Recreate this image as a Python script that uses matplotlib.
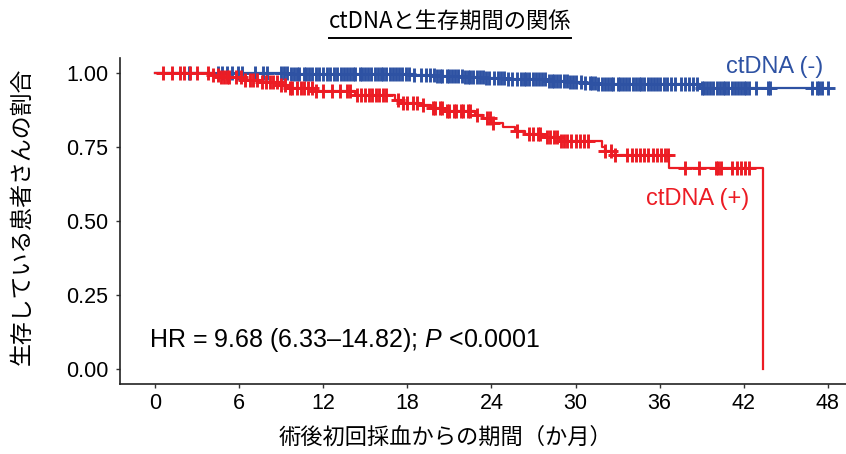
import numpy as np
import matplotlib
matplotlib.use("Agg")
import matplotlib.pyplot as plt

# fonts
plt.rcParams['font.family'] = ['Liberation Sans', 'Noto Sans CJK JP', 'DejaVu Sans']
plt.rcParams['mathtext.fontset'] = 'custom'
plt.rcParams['mathtext.it'] = 'Liberation Sans:italic'
plt.rcParams['mathtext.rm'] = 'Liberation Sans'
jp = ['Noto Sans CJK JP', 'DejaVu Sans']

# ctDNA (-) : step times / survival, censor times
neg_times = [0, 9.5, 14.0, 18.5, 20.0, 22.0, 23.5, 25.0, 26.5, 28.0, 29.5, 30.5, 31.5, 38.9, 48.0]
neg_surv = [1.0, 0.998, 0.996, 0.994, 0.991, 0.988, 0.985, 0.982, 0.979, 0.975, 0.971, 0.967, 0.963, 0.950, 0.950]
neg_cens = [2.4, 4.5, 4.8, 5.1, 5.5, 5.9, 6.2, 7.1, 7.7, 8.0,
            9.0, 9.2, 9.4, 9.7, 9.9, 10.1, 10.3, 10.6, 10.8, 11.0, 11.2, 11.5, 11.7,
            12.0, 12.3, 12.5, 12.8, 13.0, 13.3, 13.5, 13.7, 13.9, 14.1, 14.3, 14.6, 14.8,
            15.0, 15.2, 15.4, 15.7, 15.9, 16.1, 16.3, 16.5, 16.8, 17.0, 17.2, 17.4, 17.6,
            17.9, 18.1, 18.5, 19.0, 19.3, 19.6, 19.9, 20.1, 20.3, 20.5, 20.8, 21.0, 21.2,
            21.4, 21.6, 21.9, 22.1, 22.3, 22.5, 22.7, 23.0, 23.2, 23.4, 23.6, 23.8, 24.2,
            24.5, 24.7, 24.9, 25.2, 25.5, 25.8, 26.1, 26.3, 26.5, 26.7, 27.0, 27.2, 27.4,
            27.6, 27.8, 28.1, 28.3, 28.5, 28.7, 28.9, 29.2, 29.4, 29.6, 29.8, 30.0, 30.4,
            30.7, 31.0, 31.2, 31.4, 31.6, 31.9, 32.1, 32.3, 32.5, 32.7, 33.0, 33.2, 33.4,
            33.6, 33.8, 34.1, 34.3, 34.5, 34.7, 34.9, 35.2, 35.4, 35.6, 35.8, 36.0, 36.3,
            36.5, 36.8, 37.1, 37.5, 37.8, 38.1, 38.4, 38.7, 39.0, 39.2, 39.4, 39.6, 39.8,
            40.1, 40.3, 40.5, 40.7, 40.9, 41.2, 41.4, 41.6, 41.8, 42.0, 42.2, 42.4, 42.9,
            43.7, 43.9, 46.9, 47.2, 47.4, 47.6, 48.0]

# ctDNA (+)
pos_times = [0, 4.1, 4.6, 6.3, 7.5, 8.9, 9.6, 11.5, 14.3, 17.1, 17.7, 18.9, 19.7, 20.6,
             22.8, 23.4, 24.0, 24.8, 25.7, 26.4, 27.7, 28.9, 31.9, 32.1, 32.6, 36.7, 43.4]
pos_surv = [1.0, 0.994, 0.988, 0.977, 0.970, 0.960, 0.949, 0.939, 0.926, 0.909, 0.899, 0.892,
            0.882, 0.872, 0.858, 0.848, 0.831, 0.818, 0.804, 0.794, 0.784, 0.770, 0.750,
            0.736, 0.723, 0.679, 0.0]
pos_cens = [0.6, 1.2, 1.8, 2.1, 2.5, 3.0, 3.8, 4.1, 4.5, 4.7, 4.9, 5.1, 5.3, 5.8, 6.1, 6.4,
            6.8, 7.0, 7.3, 7.6, 7.9, 8.2, 8.4, 8.7, 9.0, 9.3, 9.6, 9.8, 10.1, 10.4, 10.6,
            10.9, 11.2, 11.5, 12.0, 12.6, 13.2, 13.7, 13.9, 14.4, 14.7, 15.0, 15.3, 15.5,
            15.8, 16.0, 16.3, 16.5, 17.3, 17.7, 18.0, 18.4, 18.7, 19.1, 19.8, 20.0, 20.3,
            20.5, 20.8, 21.0, 21.3, 21.5, 21.8, 22.0, 22.3, 22.5, 23.0, 23.7, 23.9, 24.1,
            25.8, 26.7, 27.0, 27.3, 27.5, 28.0, 28.2, 28.5, 28.7, 29.0, 29.2, 29.4, 29.7,
            30.0, 30.3, 30.6, 30.9, 32.1, 32.5, 32.8, 33.7, 34.0, 34.3, 34.6, 34.9, 35.2,
            35.5, 35.8, 36.1, 36.4, 36.6, 37.8, 38.8, 40.0, 40.2, 40.4, 41.2, 41.5, 41.8,
            42.1, 42.4]

x_ticks = [0, 6, 12, 18, 24, 30, 36, 42, 48]
y_ticks = [0.00, 0.25, 0.50, 0.75, 1.00]
y_ticklabels = ['0.00', '0.25', '0.50', '0.75', '1.00']

blue = '#2E52A3'
red = '#EC1C24'


def surv_at(times, surv, t):
    # survival value of a step curve at time t
    idx = np.searchsorted(times, t, side='right') - 1
    return np.array(surv)[idx]


fig = plt.figure(figsize=(8.46, 4.54), dpi=100)
ax = fig.add_axes([120 / 846, 1 - 384 / 454, 1 - 120 / 846, 325.6 / 454])

# ctDNA (-) curve
ax.step(neg_times, neg_surv, where='post', color=blue, lw=1.6)
ax.plot(neg_cens, surv_at(neg_times, neg_surv, neg_cens), ls='none', marker='+',
        ms=10, mew=2.1, color=blue)

# ctDNA (+) curve
ax.step(pos_times, pos_surv, where='post', color=red, lw=1.6)
ax.plot(pos_cens, surv_at(pos_times, pos_surv, pos_cens), ls='none', marker='+',
        ms=10, mew=2.1, color=red)

ax.set_xlim(-2.5, 49.3)
ax.set_ylim(-0.05, 1.05)
ax.set_xticks(x_ticks)
ax.set_yticks(y_ticks)
ax.set_yticklabels(y_ticklabels)
ax.tick_params(length=3, width=1, color='#333333', labelsize=15.5, labelcolor='black')
ax.tick_params(axis='y', pad=5.5)
ax.tick_params(axis='x', pad=3.5)
for s in ['top', 'right']:
    ax.spines[s].set_visible(False)
for s in ['left', 'bottom']:
    ax.spines[s].set_linewidth(1.2)
    ax.spines[s].set_color('#222222')

# labels on the curves
ax.text(44.2, 1.02, 'ctDNA (-)', color=blue, fontsize=17, ha='center', va='center')
ax.text(38.7, 0.575, 'ctDNA (+)', color=red, fontsize=17, ha='center', va='center')
ax.text(-0.4, 0.10, 'HR = 9.68 (6.33\u201314.82); $\\mathit{P}$ <0.0001', fontsize=18,
        ha='left', va='center', color='black')

# title with underline
t = fig.text(450 / 846, 1 - 21 / 454, 'ctDNAと生存期間の関係', family=jp, fontsize=16,
             ha='center', va='center')
fig.canvas.draw()
bb = t.get_window_extent()
fig.add_artist(plt.Line2D([bb.x0 / 846, bb.x1 / 846], [1 - 38 / 454, 1 - 38 / 454],
                          transform=fig.transFigure, color='black', lw=1.4))

fig.text(446 / 846, 1 - 437 / 454, '術後初回採血からの期間（か月）', family=jp, fontsize=16,
         ha='center', va='center')
fig.text(22 / 846, 1 - 216 / 454, '生存している患者さんの割合', family=jp, fontsize=16.5,
         ha='center', va='center', rotation=90)

fig.savefig('out.png', dpi=100)
